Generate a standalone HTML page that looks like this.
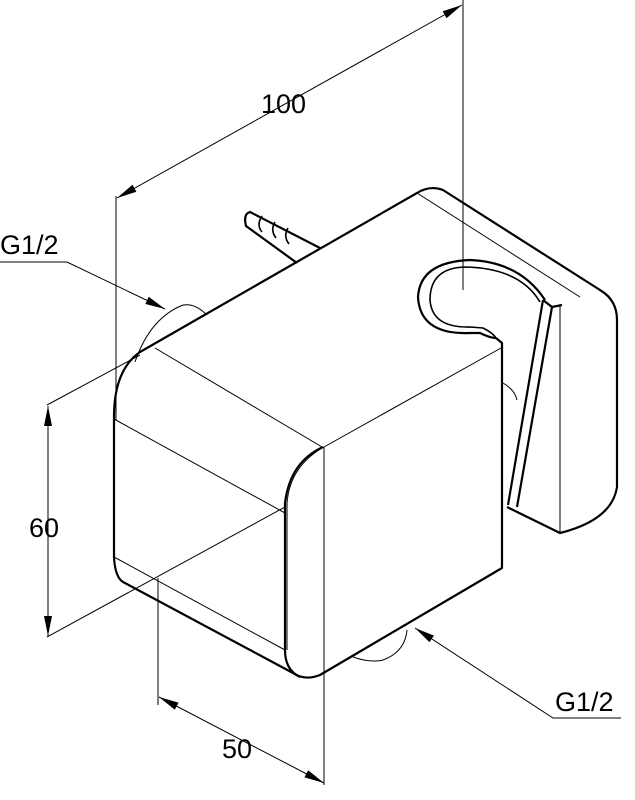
<!DOCTYPE html>
<html><head><meta charset="utf-8"><style>html,body{margin:0;padding:0;background:#fff}svg{display:block}</style></head>
<body>
<svg width="635" height="800" viewBox="0 0 635 800" xmlns="http://www.w3.org/2000/svg" font-family="Liberation Sans, sans-serif">
<defs>
<marker id="a" viewBox="0 0 20 8" refX="20" refY="4" markerWidth="20" markerHeight="8" markerUnits="userSpaceOnUse" orient="auto-start-reverse" preserveAspectRatio="none"><path d="M0,0L20,4L0,8z" fill="#000"/></marker>
</defs>
<g fill="none" stroke="#000" stroke-width="1">
<line x1="116" y1="196" x2="116" y2="420"/>
<line x1="463" y1="0" x2="463" y2="290"/>
<line x1="117" y1="198" x2="462" y2="5" marker-start="url(#a)" marker-end="url(#a)"/>
<line x1="47" y1="405" x2="140" y2="355"/>
<line x1="47" y1="637" x2="285" y2="507"/>
<line x1="48" y1="406" x2="48" y2="636" marker-start="url(#a)" marker-end="url(#a)"/>
<line x1="158" y1="578" x2="158" y2="705"/>
<line x1="324" y1="447" x2="324" y2="785"/>
<line x1="159" y1="697" x2="324" y2="783" marker-start="url(#a)" marker-end="url(#a)"/>
<polyline points="0,262 67,262 165,309" marker-end="url(#a)"/>
<polyline points="621,718 553,718 415,628" marker-end="url(#a)"/>
<line x1="155" y1="348" x2="322" y2="447"/>
<line x1="114" y1="419" x2="285" y2="513"/>
<line x1="114" y1="557" x2="285" y2="650"/>
<line x1="417" y1="193" x2="580" y2="297"/>
<path d="M501,348 L324,447 Q290,466 287,503 L287,650"/>
<line x1="560" y1="305" x2="560" y2="532"/>
<path d="M135,362 Q150,318 183,305 Q195,303 207,315"/>
<path d="M353,657 Q370,663 383,660 Q405,652 407,630"/>
<path d="M503,383 Q515,390 517,400"/>
</g>
<g fill="none" stroke="#000" stroke-width="2.2" stroke-linejoin="round">
<path d="M114,417 Q114,370 140,352 L417,193 Q430,185 443,190 L600,290 Q617,300 617,320 L617,487 Q612,520 560,533 L507,507"/>
<path d="M114,417 L114,557 Q115,577 123,582 L293,673 Q305,681 320,675 L502,568 L502,343 L496,338"/>
<path d="M323,447 Q290,462 285,503 L285,650 Q285,670 300,677"/>
<path d="M545,300 Q520,262 470,260 Q420,262 418,297 Q420,335 470,333 L480,333 Q490,338 496,338"/>
<path d="M540,302 Q520,268 465,267 Q430,268 430,300 Q432,328 470,327 L483,328 Q493,333 496,338" stroke-width="1.6"/>
<path d="M543,300 L508,505"/>
<path d="M552,307 L517,507"/>
<path d="M543,300 L552,307 L562,305"/>
<path d="M320,248 L250,212 Q243,214 246,226 L297,263"/>
<path d="M262,216 Q256,225 262,232 M275,222 Q270,230 276,238 M288,228 Q283,236 289,244" stroke-width="1.6"/>
</g>
<g font-size="27" fill="#000">
<text x="261" y="113">100</text>
<text x="29" y="537">60</text>
<text x="222" y="758">50</text>
<text x="0" y="254">G1/2</text>
<text x="555" y="711">G1/2</text>
</g>
</svg>
</body></html>
